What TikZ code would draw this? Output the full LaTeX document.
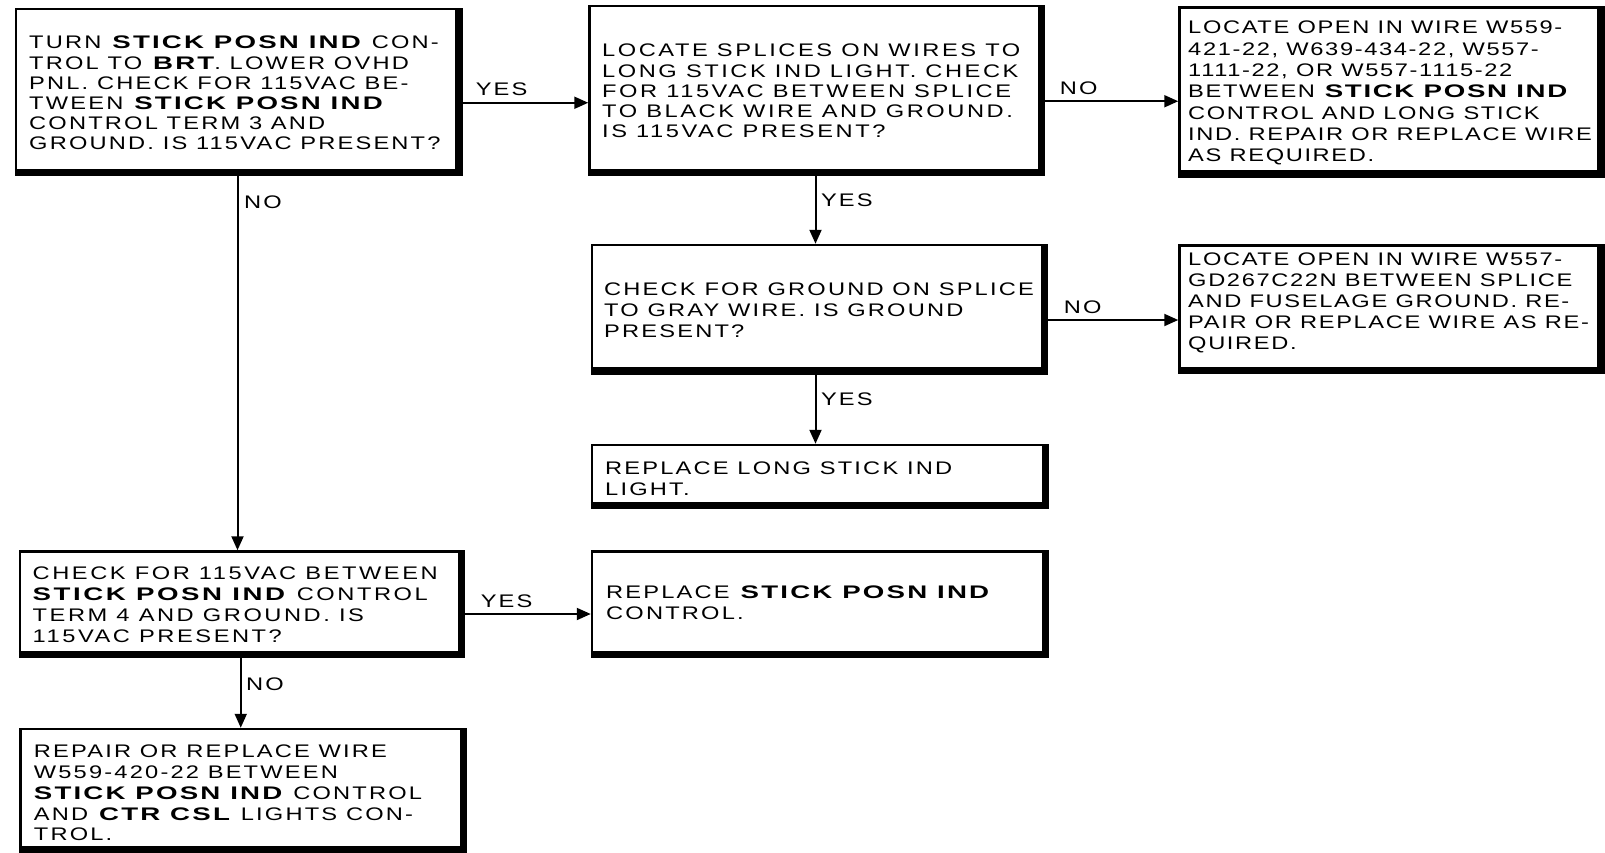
\documentclass[tikz,border=0pt]{standalone}
\usepackage{fontspec}
\setmainfont{Liberation Sans}[LetterSpace=12,UprightFeatures={FakeStretch=1.3},BoldFeatures={FakeStretch=1.52}]
\usetikzlibrary{arrows.meta,calc}
\newcommand\B[1]{\textbf{#1}}
\newcommand\mkframe[5]{%
  \node[frame, minimum width={#4-#2}, minimum height={#5-#3}] (#1) at ({(#2+#4)/2},{(#3+#5)/2}) {};
  \draw[thickedge] ({#2-1.25},#5) -- (#4,#5) -- (#4,{#3-1.25});
}
\begin{document}
\begin{tikzpicture}[x=1pt,y=-1pt,
  frame/.style={draw, line width=2.5pt, inner sep=0pt, fill=white},
  thickedge/.style={line width=7.5pt, line join=miter, line cap=butt},
  txt/.style={inner sep=0pt, anchor=north west, align=left, font=\fontsize{18.2pt}{20.7pt}\selectfont},
  narrow/.style={font=\fontsize{18.2pt}{#1}\selectfont\addfontfeature{LetterSpace=9}},
  wide/.style={font=\fontsize{18.2pt}{#1}\selectfont\addfontfeature{LetterSpace=14}},
  lbl/.style={inner sep=0pt, anchor=base west, font=\fontsize{18.2pt}{20.7pt}\selectfont},
  arr/.style={line width=2pt, -{Triangle[length=14pt,width=12pt]}}]
\fill[white] (0,0) rectangle (1605,853);
\useasboundingbox (0,0) rectangle (1605,853);

\mkframe{b1}{16}{9}{459}{172.5}
\mkframe{b2}{589.5}{6}{1041.5}{172.5}
\mkframe{b3}{1179.5}{7.5}{1601}{174}
\mkframe{b4}{592}{245}{1044.5}{371}
\mkframe{b5}{1179.5}{245.5}{1601}{370.5}
\mkframe{b6}{592}{445}{1045.5}{505.5}
\mkframe{b7}{20}{551.5}{461.5}{654.5}
\mkframe{b8}{592}{551.5}{1045.5}{654.5}
\mkframe{b9}{20.5}{729}{463.5}{849.5}

\node[txt, font=\fontsize{18.2pt}{20.1pt}\selectfont] (t1) at (29,36) {TURN \B{STICK POSN IND} CON-\\TROL TO \B{BRT}. LOWER OVHD\\PNL. CHECK FOR 115VAC BE-\\TWEEN \B{STICK POSN IND}\\CONTROL TERM 3 AND\\GROUND. IS 115VAC PRESENT?};
\node[txt, wide=20.2pt] (t2) at (602,44) {LOCATE SPLICES ON WIRES TO\\LONG STICK IND LIGHT. CHECK\\FOR 115VAC BETWEEN SPLICE\\TO BLACK WIRE AND GROUND.\\IS 115VAC PRESENT?};
\node[txt, narrow=21.3pt] (t3) at (1188,21) {LOCATE OPEN IN WIRE W559-\\421-22, W639-434-22, W557-\\1111-22, OR W557-1115-22\\BETWEEN \B{STICK POSN IND}\\CONTROL AND LONG STICK\\IND. REPAIR OR REPLACE WIRE\\AS REQUIRED.};
\node[txt] (t4) at (604,283) {CHECK FOR GROUND ON SPLICE\\TO GRAY WIRE. IS GROUND\\PRESENT?};
\node[txt, narrow=21pt] (t5) at (1188,253) {LOCATE OPEN IN WIRE W557-\\GD267C22N BETWEEN SPLICE\\AND FUSELAGE GROUND. RE-\\PAIR OR REPLACE WIRE AS RE-\\QUIRED.};
\node[txt] (t6) at (605,462) {REPLACE LONG STICK IND\\LIGHT.};
\node[txt, wide=20.7pt] (t7) at (32.5,567) {CHECK FOR 115VAC BETWEEN\\\B{STICK POSN IND} CONTROL\\TERM 4 AND GROUND. IS\\115VAC PRESENT?};
\node[txt] (t8) at (606,586) {REPLACE \B{STICK POSN IND}\\CONTROL.};
\node[txt] (t9) at (33.7,745) {REPAIR OR REPLACE WIRE\\W559-420-22 BETWEEN\\\B{STICK POSN IND} CONTROL\\AND \B{CTR CSL} LIGHTS CON-\\TROL.};

\draw[arr] ([yshift=-12pt]b1.east) -- ([yshift=-12pt]b1.east -| b2.west)
  node[lbl, at start, xshift=14.5pt, yshift=7.5pt] {YES};
\draw[arr] ([yshift=-12pt]b2.east) -- ([yshift=-12pt]b2.east -| b3.west)
  node[lbl, at start, xshift=16pt, yshift=6.25pt] {NO};
\draw[arr] ([yshift=-12pt]b4.east) -- ([yshift=-12pt]b4.east -| b5.west)
  node[lbl, at start, xshift=17pt, yshift=7pt] {NO};
\draw[arr] ([yshift=-11pt]b7.east) -- ([yshift=-11pt]b7.east -| b8.west)
  node[lbl, at start, xshift=17pt, yshift=7pt] {YES};
\draw[arr] (b1.south) -- (b1.south |- b7.north)
  node[lbl, at start, xshift=5.5pt, yshift=-34.25pt] {NO};
\draw[arr] (b7.south) -- (b7.south |- b9.north)
  node[lbl, at start, xshift=4.25pt, yshift=-34.25pt] {NO};
\draw[arr] (b2.south) -- (b2.south |- b4.north)
  node[lbl, at start, xshift=4.5pt, yshift=-33.25pt] {YES};
\draw[arr] (b4.south -| b2.south) -- (b6.north -| b2.south)
  node[lbl, at start, xshift=4.5pt, yshift=-32.75pt] {YES};
\end{tikzpicture}
\end{document}
